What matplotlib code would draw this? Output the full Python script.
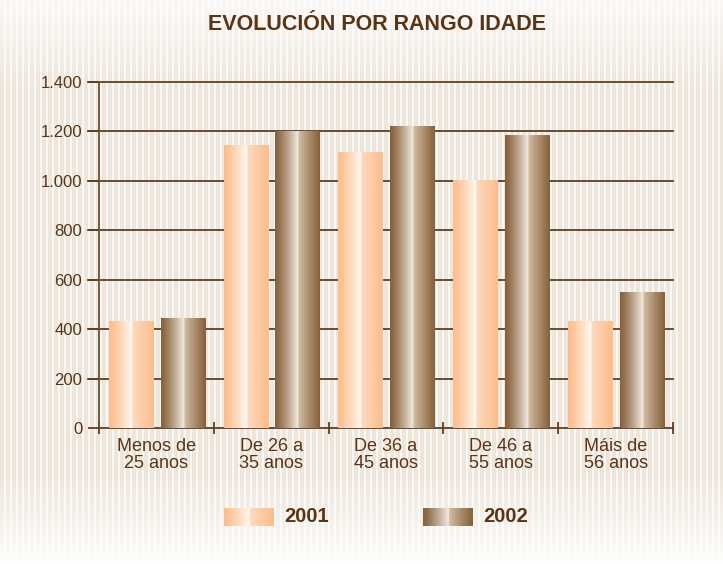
import numpy as np
import matplotlib
matplotlib.use('Agg')
import matplotlib.pyplot as plt
from matplotlib.ticker import FuncFormatter

# data
categories = ['Menos de\n25 anos', 'De 26 a\n35 anos', 'De 36 a\n45 anos', 'De 46 a\n55 anos', 'Máis de\n56 anos']
years = ['2001', '2002']
values_2001 = [430, 1145, 1115, 1000, 430]
values_2002 = [445, 1200, 1220, 1185, 550]
y_ticks = [0, 200, 400, 600, 800, 1000, 1200, 1400]

W, H = 723, 564
text_col = '#5a3414'
line_col = '#5e3f22'

plt.rcParams['font.family'] = ['Liberation Sans', 'DejaVu Sans']


def cylinder(edge, light, mid, n=200):
    # horizontal gradient: edge -> light at centre, then mid -> edge
    edge, light, mid = [np.array(matplotlib.colors.to_rgb(c)) for c in (edge, light, mid)]
    t = np.linspace(0, 1, n)
    out = np.zeros((1, n, 3))
    for i, v in enumerate(t):
        if v < 0.52:
            s = v / 0.52
            out[0, i] = edge + (light - edge) * s ** 1.2
        else:
            s = (v - 0.52) / 0.48
            out[0, i] = mid + (edge - mid) * s ** 0.9
    return out


grad_2001 = cylinder('#fcbd8c', '#fff9f2', '#fddcc2')
grad_2002 = cylinder('#86603a', '#f3ece2', '#d4c1a8')

fig = plt.figure(figsize=(W / 100, H / 100), dpi=100)

# striped background
bg_ax = fig.add_axes([0, 0, 1, 1], zorder=-5)
yy, xx = np.mgrid[0:H, 0:W]
stripe = ((xx % 6) < 4).astype(float)
fade = (0.25 + 0.75 * np.clip(yy / 90.0, 0, 1)) * np.clip((H - yy) / 90.0, 0, 1) ** 0.8
cream = np.array([237, 230, 220]) / 255.0
white = np.array([251, 248, 244]) / 255.0
base = stripe[..., None] * cream + (1 - stripe[..., None]) * white
bg = 1 - fade[..., None] * (1 - base)
bg_ax.imshow(bg, extent=[0, W, 0, H], origin='upper', aspect='auto', interpolation='nearest')
bg_ax.set_xlim(0, W)
bg_ax.set_ylim(0, H)
bg_ax.axis('off')

ax = fig.add_axes([99 / W, 136 / H, 574 / W, 346 / H])
ax.patch.set_alpha(0)

x = np.arange(len(categories))
bw = 0.39
gap = 0.06
b1 = ax.bar(x - (bw + gap) / 2 + 0.006, values_2001, bw, color='none', zorder=3)
b2 = ax.bar(x + (bw + gap) / 2 + 0.006, values_2002, bw, color='none', zorder=3)
for bars, grad in ((b1, grad_2001), (b2, grad_2002)):
    for p in bars:
        ax.imshow(grad, extent=[p.get_x(), p.get_x() + p.get_width(), 0, p.get_height()],
                  aspect='auto', zorder=3, interpolation='bilinear')

ax.set_xlim(-0.5, len(categories) - 0.5)
ax.set_ylim(0, 1400)

for v in y_ticks[1:]:
    ax.axhline(v, xmin=-11 / 574, xmax=1, color=line_col, lw=1.3, zorder=1, clip_on=False)

for s in ['top', 'right']:
    ax.spines[s].set_visible(False)
ax.spines['left'].set_color('#6e4f33')
ax.spines['left'].set_linewidth(1.3)
ax.spines['bottom'].set_color(line_col)
ax.spines['bottom'].set_linewidth(1.3)

ax.set_yticks(y_ticks)
ax.yaxis.set_major_formatter(FuncFormatter(lambda v, p: f'{int(v):,}'.replace(',', '.')))
ax.tick_params(axis='y', length=8, width=1.3, color=line_col, labelcolor=text_col,
               labelsize=12, pad=4)

ax.set_xticks(x)
ax.set_xticklabels(categories)
ax.set_xticks(np.arange(len(categories) + 1) - 0.5, minor=True)
ax.tick_params(axis='x', which='major', length=0, labelcolor=text_col, labelsize=13, pad=7)
ax.tick_params(axis='x', which='minor', direction='inout', length=9, width=1.3, color=line_col)
for lbl in ax.get_xticklabels():
    lbl.set_linespacing(1.05)

fig.text(377 / W, 1 - 25 / H, 'EVOLUCIÓN POR RANGO IDADE', ha='center', va='center',
         fontsize=15.5, fontweight='bold', color=text_col)

# legend
for (x0, lx), grad, yr in zip([(224, 284), (423, 483)], [grad_2001, grad_2002], years):
    sw = fig.add_axes([x0 / W, 1 - 526 / H, 50 / W, 18 / H])
    sw.imshow(grad, aspect='auto', interpolation='bilinear')
    sw.axis('off')
    fig.text(lx / W, 1 - 517 / H, yr, ha='left', va='center', fontsize=14.5,
             fontweight='bold', color=text_col)

fig.savefig('out.png', dpi=100)
